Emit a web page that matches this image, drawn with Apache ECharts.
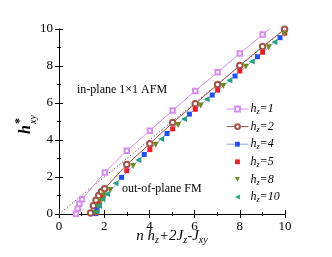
<!DOCTYPE html>
<html><head><meta charset="utf-8">
<script src="https://cdn.jsdelivr.net/npm/echarts@6/dist/echarts.min.js"></script>
<style>html,body{margin:0;padding:0;background:#fff}#c{width:332px;height:257px}</style>
</head><body><div id="c"></div>
<script>
var xTicks = [0, 2, 4, 6, 8, 10];
var yTicks = [0, 2, 4, 6, 8, 10];
var hz1 = [[0.75,0],[0.83,0.3],[0.9,0.55],[1.02,0.8],[2.03,2.25],[3.0,3.42],[4.02,4.5],[5.03,5.6],[6.03,6.65],[7.02,7.66],[8.0,8.68],[9.01,9.7],[10.0,10.72]];
var hz2 = [[1.4,0.05],[1.52,0.45],[1.64,0.75],[1.76,1.0],[1.88,1.2],[2.02,1.37],[3.0,2.67],[4.02,3.8],[5.03,4.94],[6.03,5.96],[7.02,7.0],[8.0,8.03],[9.01,9.05],[9.98,9.98]];
var hz4 = [[1.63,0.02],[1.68,0.22],[1.75,0.45],[2.77,1.98],[3.77,3.22],[4.78,4.35],[5.77,5.4],[6.78,6.43],[7.79,7.46],[8.78,8.5],[9.78,9.53]];
var hz5 = [[1.66,0.08],[1.78,0.55],[1.95,0.95],[3.0,2.34],[4.02,3.48],[5.03,4.6],[6.03,5.66],[7.02,6.7],[8.0,7.73],[9.01,8.74],[9.99,9.78]];
var hz8 = [[1.62,0.05],[1.72,0.4],[1.83,0.72],[1.98,1.0],[2.27,1.3],[3.28,2.6],[4.28,3.74],[5.27,4.81],[6.27,5.86],[7.27,6.92],[8.27,7.96],[9.28,9.01],[9.98,9.75]];
var hz10 = [[1.66,0.12],[1.77,0.45],[1.92,0.8],[2.12,1.08],[2.5,1.66],[3.51,2.92],[4.52,4.05],[5.53,5.13],[6.53,6.2],[7.54,7.23],[8.53,8.24],[9.53,9.3]];
var diag = [[0,0],[10,10]];
var legendNums = ['1','2','4','5','8','10'];

var serif = 'Liberation Serif';
var chart = echarts.init(document.getElementById('c'));
function axisCommon(show){
  return {
    min:0,max:10,interval:2,
    axisLine:{show:true,lineStyle:{color:'#000',width:1}},
    axisTick:{show:true,inside:true,length:4,lineStyle:{color:'#000'}},
    minorTick:{show:true,splitNumber:2,length:2,lineStyle:{color:'#000'}},
    splitLine:{show:false},
    axisLabel:{show:show,color:'#000',fontFamily:serif,fontSize:13,margin:6}
  };
}
var xb = axisCommon(true); xb.type='value'; xb.position='bottom';
var xt = axisCommon(false); xt.type='value'; xt.position='top';
var yl = axisCommon(true); yl.type='value'; yl.position='left';
var yr = axisCommon(false); yr.type='value'; yr.position='right';
var rich = {
  i:{fontFamily:serif,fontStyle:'italic',fontSize:12,color:'#000'},
  s:{fontFamily:serif,fontStyle:'italic',fontSize:8,color:'#000',verticalAlign:'bottom',padding:[6,0,0,0]}
};
var names = legendNums.map(function(n){return 'hz='+n;});
var noLine = {width:0,opacity:0};
chart.setOption({
  animation:false,
  grid:{left:59,top:29,width:226,height:185},
  xAxis:[xb,xt],
  yAxis:[yl,yr],
  legend:{
    orient:'vertical',left:221,top:98,itemGap:4.6,itemWidth:22,itemHeight:6,
    data:names,
    lineStyle:{width:1},
    formatter:function(n){return '{i|h}{s|z}{i|='+n.split('=')[1]+'}';},
    textStyle:{rich:rich,padding:[0,0,0,-3]}
  },
  series:[
    {type:'line',name:'diag',data:diag,symbol:'none',silent:true,lineStyle:{color:'#555',width:1,type:[1.2,2.2]},z:1},
    {type:'line',name:names[0],data:hz1,symbol:'emptyRect',symbolSize:4.5,itemStyle:{color:'#d98cf0',borderWidth:1},lineStyle:{color:'#d98cf0',width:1}},
    {type:'line',name:names[1],data:hz2,symbol:'emptyCircle',symbolSize:5.5,itemStyle:{color:'#a6504a',borderWidth:1},lineStyle:{color:'#a6504a',width:1}},
    {type:'line',name:names[2],data:hz4,symbol:'rect',symbolSize:5,itemStyle:{color:'#1f4ff5'},lineStyle:{color:'#8aa6f5',width:1}},
    {type:'line',name:names[3],data:hz5,symbol:'rect',symbolSize:5,itemStyle:{color:'#ee1c24'},lineStyle:noLine},
    {type:'line',name:names[4],data:hz8,symbol:'triangle',symbolRotate:180,symbolSize:6,itemStyle:{color:'#6b8a1e'},lineStyle:noLine},
    {type:'line',name:names[5],data:hz10,symbol:'triangle',symbolRotate:90,symbolSize:6,itemStyle:{color:'#25a07e'},lineStyle:noLine}
  ],
  graphic:[
    {type:'text',left:77,top:84,style:{text:'in-plane 1\u00d71 AFM',font:'12px "Liberation Serif"',fill:'#000'}},
    {type:'text',left:122,top:183,style:{text:'out-of-plane FM',font:'12px "Liberation Serif"',fill:'#000'}},
    {type:'text',x:172,y:236,style:{text:'{a|n h}{b|z}{a|+2J}{b|z}{a|-J}{b|xy}',align:'center',verticalAlign:'middle',
      rich:{a:{fontFamily:serif,fontStyle:'italic',fontSize:15,color:'#000'},b:{fontFamily:serif,fontStyle:'italic',fontSize:10,color:'#000',padding:[9,0,0,0]}}}},
    {type:'group',x:26,y:121,rotation:Math.PI/2,children:[
      {type:'text',x:-4,y:0,style:{text:'h',font:'italic bold 16px "Liberation Serif"',fill:'#000',align:'right',verticalAlign:'middle'}},
      {type:'text',x:-3,y:-6,style:{text:'*',font:'bold 12px "Liberation Serif"',fill:'#000',align:'left',verticalAlign:'middle'}},
      {type:'text',x:-3,y:7,style:{text:'xy',font:'italic 10px "Liberation Serif"',fill:'#000',align:'left',verticalAlign:'middle'}}
    ]}
  ]
});
</script></body></html>
